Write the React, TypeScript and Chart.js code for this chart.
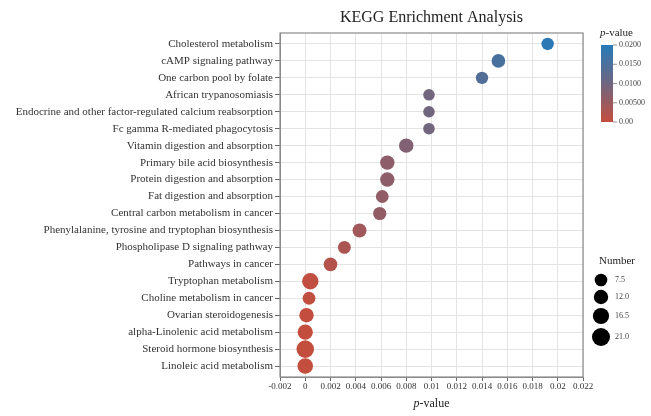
import React, { useEffect, useRef } from "react";
import { Chart, registerables } from "chart.js";

Chart.register(...registerables);

const categories = [
  "Cholesterol metabolism",
  "cAMP signaling pathway",
  "One carbon pool by folate",
  "African trypanosomiasis",
  "Endocrine and other factor-regulated calcium reabsorption",
  "Fc gamma R-mediated phagocytosis",
  "Vitamin digestion and absorption",
  "Primary bile acid biosynthesis",
  "Protein digestion and absorption",
  "Fat digestion and absorption",
  "Central carbon metabolism in cancer",
  "Phenylalanine, tyrosine and tryptophan biosynthesis",
  "Phospholipase D signaling pathway",
  "Pathways in cancer",
  "Tryptophan metabolism",
  "Choline metabolism in cancer",
  "Ovarian steroidogenesis",
  "alpha-Linolenic acid metabolism",
  "Steroid hormone biosynthesis",
  "Linoleic acid metabolism",
];

const pValues = [
  0.0192, 0.0153, 0.014, 0.0098, 0.0098, 0.0098, 0.008, 0.0065, 0.0065, 0.0061,
  0.0059, 0.0043, 0.0031, 0.002, 0.0004, 0.0003, 0.0001, 0.0, 0.0, 0.0,
];

const counts = [7, 10, 7, 5, 5, 5, 12, 12, 12, 8, 9, 11, 8, 10, 17, 8, 12, 14, 20, 15];

const xTicks = [
  -0.002, 0, 0.002, 0.004, 0.006, 0.008, 0.01, 0.012, 0.014, 0.016, 0.018, 0.02, 0.022,
];

const colorbarTicks = [0.02, 0.015, 0.01, 0.005, 0];
const colorbarLabels = ["0.0200", "0.0150", "0.0100", "0.00500", "0.00"];

const sizeLegendValues = [7.5, 12.0, 16.5, 21.0];
const sizeLegendLabels = ["7.5", "12.0", "16.5", "21.0"];

const FONT = "'Liberation Serif', 'Times New Roman', serif";

// color scale: red (low p) -> grey purple -> blue (high p)
const stops: [number, number[]][] = [
  [0, [196, 78, 62]],
  [0.5, [112, 102, 128]],
  [1, [38, 122, 184]],
];

function colorFor(p: number): string {
  const t = Math.max(0, Math.min(1, p / 0.02));
  for (let i = 0; i < stops.length - 1; i++) {
    const [t0, c0] = stops[i];
    const [t1, c1] = stops[i + 1];
    if (t <= t1) {
      const f = (t - t0) / (t1 - t0);
      const c = c0.map((v, k) => Math.round(v + (c1[k] - v) * f));
      return `rgb(${c[0]},${c[1]},${c[2]})`;
    }
  }
  const c = stops[stops.length - 1][1];
  return `rgb(${c[0]},${c[1]},${c[2]})`;
}

function radiusFor(n: number): number {
  return 4.8 + 0.2 * n;
}

const decorPlugin = {
  id: "decor",
  beforeDatasetsDraw(chart: any) {
    const { ctx, chartArea } = chart;
    ctx.save();
    ctx.strokeStyle = "#8a8a8a";
    ctx.lineWidth = 1.2;
    ctx.strokeRect(chartArea.left, chartArea.top, chartArea.right - chartArea.left, chartArea.bottom - chartArea.top);
    ctx.restore();
  },
  afterDraw(chart: any) {
    const { ctx, chartArea } = chart;
    ctx.save();
    // Title
    ctx.fillStyle = "#222";
    ctx.font = `16px ${FONT}`;
    ctx.textAlign = "center";
    ctx.textBaseline = "middle";
    ctx.fillText("KEGG Enrichment Analysis", (chartArea.left + chartArea.right) / 2, 18);

    // axis title: italic p + "-value"
    const drawPValue = (x: number, y: number, size: number, align: "center" | "left") => {
      ctx.font = `italic ${size}px ${FONT}`;
      const w1 = ctx.measureText("p").width;
      ctx.font = `${size}px ${FONT}`;
      const w2 = ctx.measureText("-value").width;
      const start = align === "center" ? x - (w1 + w2) / 2 : x;
      ctx.textAlign = "left";
      ctx.font = `italic ${size}px ${FONT}`;
      ctx.fillText("p", start, y);
      ctx.font = `${size}px ${FONT}`;
      ctx.fillText("-value", start + w1, y);
    };
    ctx.fillStyle = "#222";
    drawPValue((chartArea.left + chartArea.right) / 2, 404, 12, "center");

    // colorbar
    drawPValue(600, 33, 11, "left");
    const cbX = 601, cbW = 12, cbTop = 45, cbBot = 122;
    const grad = ctx.createLinearGradient(0, cbBot, 0, cbTop);
    stops.forEach(([t, c]) => grad.addColorStop(t, `rgb(${c[0]},${c[1]},${c[2]})`));
    ctx.fillStyle = grad;
    ctx.fillRect(cbX, cbTop, cbW, cbBot - cbTop);
    ctx.strokeStyle = "#777";
    ctx.lineWidth = 0.8;
    ctx.fillStyle = "#444";
    ctx.font = `8px ${FONT}`;
    ctx.textAlign = "left";
    colorbarTicks.forEach((v, i) => {
      const y = cbBot - (v / 0.02) * (cbBot - cbTop);
      ctx.beginPath();
      ctx.moveTo(cbX + cbW, y);
      ctx.lineTo(cbX + cbW + 4, y);
      ctx.stroke();
      ctx.fillText(colorbarLabels[i], cbX + cbW + 6, y);
    });

    // size legend
    ctx.fillStyle = "#222";
    ctx.font = `11px ${FONT}`;
    ctx.textAlign = "center";
    ctx.fillText("Number", 617, 261);
    const ys = [280, 297, 316, 337];
    sizeLegendValues.forEach((v, i) => {
      ctx.fillStyle = "#000";
      ctx.beginPath();
      ctx.arc(601, ys[i], radiusFor(v), 0, Math.PI * 2);
      ctx.fill();
      ctx.fillStyle = "#444";
      ctx.font = `8px ${FONT}`;
      ctx.textAlign = "left";
      ctx.fillText(sizeLegendLabels[i], 615, ys[i]);
    });
    ctx.restore();
  },
};

export default function App() {
  const ref = useRef<HTMLCanvasElement>(null);
  useEffect(() => {
    if (!ref.current) return;
    const data = categories.map((_, i) => ({ x: pValues[i], y: i }));
    const chart = new Chart(ref.current, {
      type: "scatter",
      data: {
        datasets: [
          {
            data,
            pointRadius: counts.map(radiusFor),
            pointHoverRadius: counts.map(radiusFor),
            pointBackgroundColor: pValues.map(colorFor),
            pointBorderWidth: 0,
            pointBorderColor: "rgba(0,0,0,0)",
          },
        ],
      },
      options: {
        animation: false,
        responsive: false,
        devicePixelRatio: 1,
        layout: { padding: { top: 33, right: 68, bottom: 0, left: 0 } },
        plugins: { legend: { display: false }, tooltip: { enabled: false }, title: { display: false } },
        scales: {
          x: {
            type: "linear",
            min: -0.002,
            max: 0.022,
            afterBuildTicks: (axis: any) => {
              axis.ticks = xTicks.map((v) => ({ value: v }));
            },
            afterFit: (axis: any) => {
              axis.height = 39;
            },
            ticks: {
              callback: (v: any) => String(parseFloat(Number(v).toFixed(3))),
              font: { family: FONT, size: 9 },
              color: "#333",
              maxRotation: 0,
              autoSkip: false,
              padding: 0,
            },
            grid: { color: "#e4e4e4", tickColor: "#666", tickLength: 4, lineWidth: 1 },
            border: { color: "#8a8a8a" },
          },
          y: {
            type: "linear",
            min: -0.645,
            max: 19.645,
            reverse: true,
            afterBuildTicks: (axis: any) => {
              axis.ticks = categories.map((_, i) => ({ value: i }));
            },
            afterFit: (axis: any) => {
              axis.width = 280;
            },
            ticks: {
              callback: (v: any) => categories[Number(v)] ?? "",
              font: { family: FONT, size: 11 },
              color: "#333",
              autoSkip: false,
              padding: 2,
            },
            grid: { color: "#e4e4e4", tickColor: "#666", tickLength: 5, lineWidth: 1 },
            border: { color: "#8a8a8a" },
          },
        },
      },
      plugins: [decorPlugin],
    } as any);
    return () => chart.destroy();
  }, []);
  return (
    <div style={{ position: "fixed", left: 0, top: 0, width: 651, height: 416, background: "#fff" }}>
      <canvas ref={ref} width={651} height={416} style={{ width: 651, height: 416 }} />
    </div>
  );
}
